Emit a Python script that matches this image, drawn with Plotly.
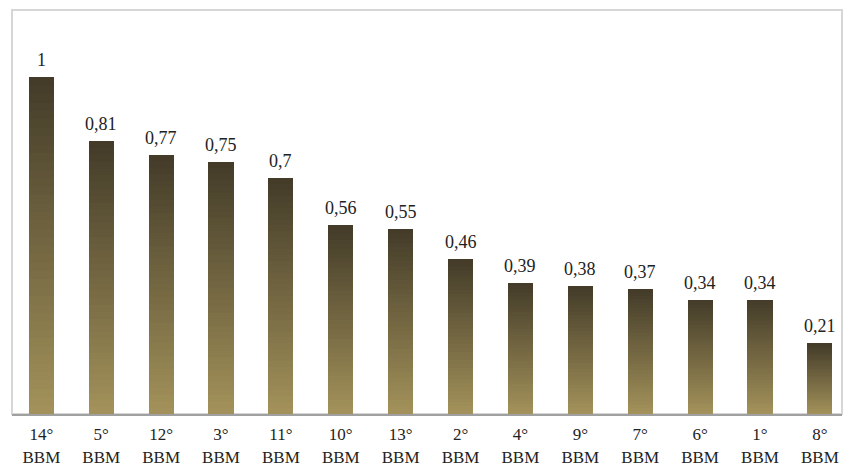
import plotly.graph_objects as go

categories = ["14°", "5°", "12°", "3°", "11°", "10°", "13°", "2°", "4°", "9°", "7°", "6°", "1°", "8°"]
suffix = "BBM"
values = [1, 0.81, 0.77, 0.75, 0.7, 0.56, 0.55, 0.46, 0.39, 0.38, 0.37, 0.34, 0.34, 0.21]

tick_text = [f"{c}<br>{suffix}" for c in categories]
label_text = [str(v).replace(".", ",") for v in values]

top_rgb = (0x44, 0x3c, 0x29)
bottom_rgb = (0xa2, 0x91, 0x5a)
N = 40

fig = go.Figure()
for k in range(N):
    t = k / (N - 1)  # 0 bottom -> 1 top
    rgb = tuple(round(b + (a - b) * t) for a, b in zip(top_rgb, bottom_rgb))
    fig.add_trace(go.Bar(
        x=categories, y=[v / N for v in values],
        marker=dict(color="rgb(%d,%d,%d)" % rgb, line=dict(width=0)),
        hoverinfo="skip", showlegend=False,
    ))

for c, v, s in zip(categories, values, label_text):
    fig.add_annotation(x=c, y=v, text=s, showarrow=False, yanchor="bottom",
                       yshift=5, font=dict(family="Liberation Serif", size=18, color="#222"))

fig.add_shape(type="rect", xref="paper", yref="paper", x0=0, x1=1, y0=0, y1=1,
              line=dict(color="#d6d6d6", width=2), layer="below")

fig.update_layout(
    width=844, height=468,
    barmode="stack", bargap=0.58,
    margin=dict(l=12, r=2, t=10, b=54),
    paper_bgcolor="white", plot_bgcolor="white",
    font=dict(family="Liberation Serif", size=18, color="#222"),
    xaxis=dict(tickmode="array", tickvals=categories, ticktext=tick_text,
               tickfont=dict(family="Liberation Serif", size=17, color="#222"),
               range=[-0.49, 13.37], showline=True, linecolor="#a0a0a0", linewidth=2,
               ticks="", showgrid=False, ticklabelstandoff=4, automargin=False),
    yaxis=dict(range=[0, 1.2], visible=False, showgrid=False),
)

fig.write_html("out.html", config={"displayModeBar": False},
               post_script="document.body.style.margin='0';document.body.style.overflow='hidden';")
